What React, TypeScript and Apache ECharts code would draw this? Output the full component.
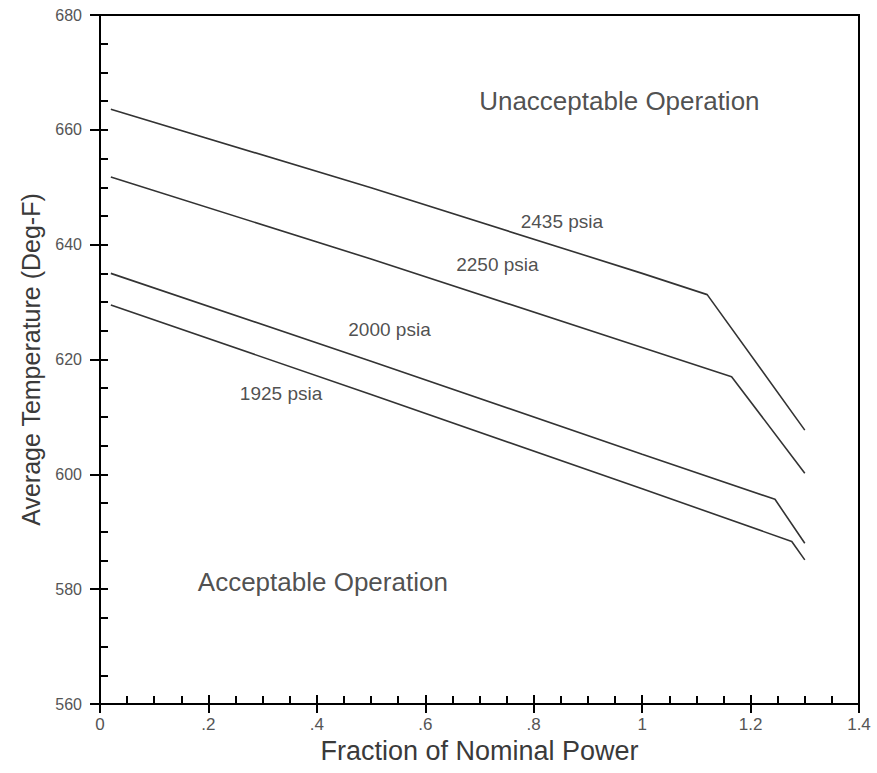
import React, { useEffect, useRef } from "react";
import * as echarts from "echarts";

// Curve data (Fraction of Nominal Power -> Average Temperature)
const power2435 = [0.02, 0.5, 1.0, 1.12, 1.3];
const temp2435 = [663.6, 649.9, 635.0, 631.3, 607.7];

const power2250 = [0.02, 0.5, 1.0, 1.165, 1.3];
const temp2250 = [651.8, 637.5, 622.1, 617.0, 600.2];

const power2000 = [0.02, 0.5, 1.0, 1.245, 1.3];
const temp2000 = [635.0, 619.7, 603.5, 595.65, 588.0];

const power1925 = [0.02, 0.5, 1.0, 1.276, 1.3];
const temp1925 = [629.5, 613.9, 597.5, 588.3, 585.1];

const seriesNames = ["2435 psia", "2250 psia", "2000 psia", "1925 psia"];

// Annotation texts and their positions in data coordinates
const annoTexts = ["2435 psia", "2250 psia", "2000 psia", "1925 psia", "Unacceptable Operation", "Acceptable Operation"];
const annoX = [0.852, 0.733, 0.534, 0.334, 0.958, 0.411];
const annoY = [644.1, 636.5, 625.3, 614.1, 665.0, 581.3];
const annoSize = [19, 19, 19, 19, 26, 26];

const xTicks = [0, 0.2, 0.4, 0.6, 0.8, 1.0, 1.2, 1.4];
const yTicks = [560, 580, 600, 620, 640, 660, 680];

const FONT = "'Liberation Sans', Arial, sans-serif";

function zip(xs: number[], ys: number[]) {
  return xs.map((x, i) => [x, ys[i]]);
}

function fmtX(v: number) {
  const r = Number(v.toFixed(1));
  if (r === 0) return "0";
  if (r < 1) return String(r).replace("0.", ".");
  return String(r);
}

export default function App() {
  const ref = useRef<HTMLDivElement>(null);
  useEffect(() => {
    if (!ref.current) return;
    const chart = echarts.init(ref.current, undefined, { renderer: "svg" });
    const lineColor = "#333";
    const curves = [
      zip(power2435, temp2435),
      zip(power2250, temp2250),
      zip(power2000, temp2000),
      zip(power1925, temp1925),
    ];
    const xMin = xTicks[0];
    const xMax = xTicks[xTicks.length - 1];
    const yMin = yTicks[0];
    const yMax = yTicks[yTicks.length - 1];
    chart.setOption({
      animation: false,
      backgroundColor: "#fff",
      grid: {
        left: 100,
        top: 15,
        right: 18,
        bottom: 69,
        show: true,
        borderColor: "#000",
        borderWidth: 2,
        backgroundColor: "transparent",
      },
      xAxis: [
        {
          type: "value",
          min: xMin,
          max: xMax,
          interval: 0.2,
          name: "Fraction of Nominal Power",
          nameLocation: "middle",
          nameGap: 30,
          nameTextStyle: { fontFamily: FONT, fontSize: 27, color: "#3a3a3a" },
          axisLine: { show: true, lineStyle: { color: "#000", width: 2 } },
          axisTick: { show: true, inside: true, length: 9, lineStyle: { color: "#000", width: 2 } },
          minorTick: { show: true, splitNumber: 4, length: 8, lineStyle: { color: "#000", width: 2 } },
          splitLine: { show: false },
          minorSplitLine: { show: false },
          axisLabel: {
            show: true,
            margin: 12,
            fontFamily: FONT,
            fontSize: 17,
            color: "#555",
            showMinLabel: true,
            showMaxLabel: true,
            formatter: (v: number) => fmtX(v),
          },
        },
        {
          type: "value",
          position: "bottom",
          min: xMin,
          max: xMax,
          interval: 0.2,
          axisLine: { show: false },
          axisTick: { show: true, inside: false, length: 9, lineStyle: { color: "#000", width: 2 } },
          axisLabel: { show: false },
          splitLine: { show: false },
        },
      ],
      yAxis: [
        {
          type: "value",
          min: yMin,
          max: yMax,
          interval: 20,
          name: "Average Temperature (Deg-F)",
          nameLocation: "middle",
          nameGap: 57,
          nameTextStyle: { fontFamily: FONT, fontSize: 25, color: "#3a3a3a" },
          axisLine: { show: true, lineStyle: { color: "#000", width: 2 } },
          axisTick: { show: true, inside: true, length: 8, lineStyle: { color: "#000", width: 2 } },
          minorTick: { show: true, splitNumber: 4, length: 8, lineStyle: { color: "#000", width: 2 } },
          splitLine: { show: false },
          minorSplitLine: { show: false },
          axisLabel: {
            show: true,
            margin: 18,
            fontFamily: FONT,
            fontSize: 16,
            color: "#555",
            showMinLabel: true,
            showMaxLabel: true,
          },
        },
        {
          type: "value",
          position: "left",
          min: yMin,
          max: yMax,
          interval: 20,
          axisLine: { show: false },
          axisTick: { show: true, inside: false, length: 10, lineStyle: { color: "#000", width: 2 } },
          axisLabel: { show: false },
          splitLine: { show: false },
        },
      ],
      series: [
        ...curves.map((data, i) => ({
          type: "line",
          name: seriesNames[i],
          xAxisIndex: 0,
          yAxisIndex: 0,
          data,
          symbol: "none",
          lineStyle: { color: lineColor, width: 1.6 },
          silent: true,
        })),
        {
          type: "scatter",
          name: "annotations",
          xAxisIndex: 0,
          yAxisIndex: 0,
          symbolSize: 0,
          silent: true,
          data: annoTexts.map((t, i) => ({
            name: t,
            value: [annoX[i], annoY[i]],
            label: {
              show: true,
              position: "inside",
              formatter: "{b}",
              fontFamily: FONT,
              fontSize: annoSize[i],
              color: "#222",
            },
          })),
        },
      ],
    });
    return () => chart.dispose();
  }, []);
  return (
    <div
      ref={ref}
      style={{ position: "absolute", left: 0, top: 0, width: 877, height: 773 }}
    />
  );
}
